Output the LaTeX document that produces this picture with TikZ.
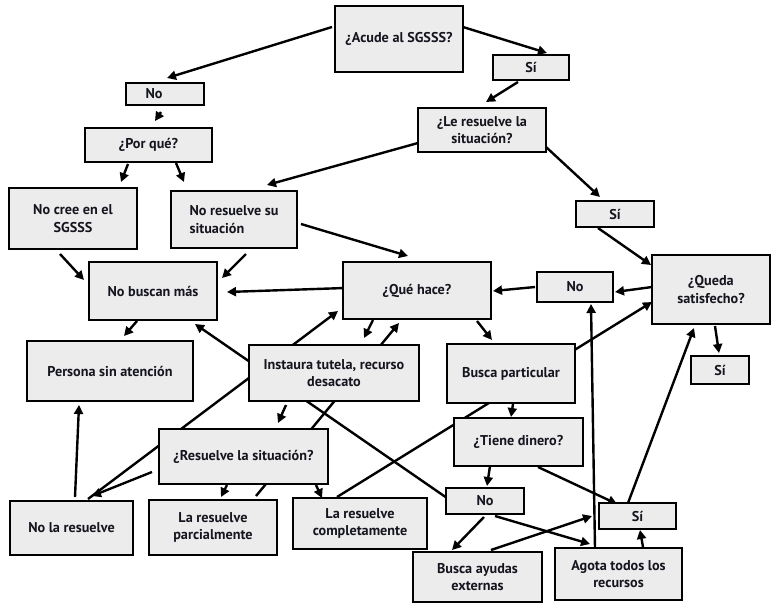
\documentclass[tikz,border=0pt]{standalone}
\usepackage{fontspec}
\setmainfont{PT Sans}
\usetikzlibrary{arrows.meta}
\definecolor{boxgray}{HTML}{ECECEC}
\definecolor{txt}{HTML}{15151F}
\pgfdeclarelayer{bg}
\pgfdeclarelayer{paper}
\pgfsetlayers{paper,bg,main}
\begin{document}
\begin{tikzpicture}[x=1pt,y=-1pt,
  box/.style={draw=black,line width=1.2pt,fill=boxgray,inner sep=0pt,align=center,
    font=\fontsize{14.2}{17.5}\selectfont\bfseries,text=txt},
  arr/.style={line width=2.4pt,-{Triangle[length=9pt,width=9pt]}},
  ln/.style={line width=2.4pt}]
\useasboundingbox (0,0) rectangle (780,611);
\begin{pgfonlayer}{paper}
\fill[white] (0,0) rectangle (780,611);
\end{pgfonlayer}

% boxes
\node[box,minimum width=128pt,minimum height=66pt] (acude) at (399,39) {¿Acude al SGSSS?};
\node[box,minimum width=78pt,minimum height=22pt] (noA) at (165,94) {No\hspace*{22pt}};
\node[box,minimum width=76pt,minimum height=25pt] (siA) at (531,67.5) {Sí};
\node[box,minimum width=127pt,minimum height=34pt] (porque) at (148.5,145) {¿Por qué?};
\node[box,minimum width=128pt,minimum height=44pt] (leres) at (482,130) {¿Le resuelve la\\situación?};
\node[box,minimum width=128pt,minimum height=61pt] (nocree) at (73,218.5) {No cree en el\\SGSSS};
\node[box,minimum width=126pt,minimum height=57pt,align=left] (nores) at (234,219.5) {No resuelve su\\situación};
\node[box,minimum width=78pt,minimum height=26pt] (siB) at (615,214) {Sí};
\node[box,minimum width=128pt,minimum height=58pt] (nobus) at (153,291) {No buscan más};
\node[box,minimum width=148pt,minimum height=57pt] (quehace) at (417,290.5) {¿Qué hace?};
\node[box,minimum width=76pt,minimum height=30pt] (noB) at (575,287) {No};
\node[box,minimum width=118pt,minimum height=69pt] (queda) at (711,289.5) {¿Queda\\satisfecho?};
\node[box,minimum width=58pt,minimum height=28pt] (siC) at (720,370) {Sí};
\node[box,minimum width=166pt,minimum height=60pt] (persona) at (110,371) {Persona sin atención};
\node[box,minimum width=170pt,minimum height=56pt] (instaura) at (334,373) {Instaura tutela, recurso\\desacato};
\node[box,minimum width=128pt,minimum height=59pt] (buscap) at (511,373.5) {Busca particular};
\node[box,minimum width=169pt,minimum height=55pt] (resuelve) at (243.5,456.5) {¿Resuelve la situación?};
\node[box,minimum width=129pt,minimum height=48pt] (tiene) at (518.5,442) {¿Tiene dinero?};
\node[box,minimum width=123pt,minimum height=54pt] (nolares) at (71.5,528) {No la resuelve};
\node[box,minimum width=128pt,minimum height=55pt] (parcial) at (213,527.5) {La resuelve\\parcialmente};
\node[box,minimum width=134pt,minimum height=51pt] (completa) at (360,523.5) {La resuelve\\completamente};
\node[box,minimum width=78pt,minimum height=26pt] (noC) at (485,501) {No};
\node[box,minimum width=77pt,minimum height=26pt] (siD) at (637.5,516) {Sí};
\node[box,minimum width=129pt,minimum height=50pt] (ayudas) at (477.5,577) {Busca ayudas\\externas};
\node[box,minimum width=127pt,minimum height=52pt] (agota) at (618.5,574) {Agota todos los\\recursos};

% connectors
\begin{pgfonlayer}{bg}
\draw[arr] ([shift={(-67,-12)}]acude.center) -- ([shift={(2,-16)}]noA.center);
\draw[arr] ([shift={(64,-12)}]acude.center) -- ([shift={(16,-14.5)}]siA.center);
\draw[arr] ([shift={(-4,18)}]noA.center) -- ([shift={(6.5,-24)}]porque.center);
\draw[arr] ([shift={(-20.5,19)}]porque.center) -- ([shift={(48,-36.5)}]nocree.center);
\draw[arr] ([shift={(27.5,18)}]porque.center) -- ([shift={(-50,-37.5)}]nores.center);
\draw[arr] ([shift={(-13,14.5)}]siA.center) -- ([shift={(4,-28)}]leres.center);
\draw[arr] ([shift={(-64,13)}]leres.center) -- ([shift={(33,-34.5)}]nores.center);
\draw[arr] ([shift={(64,17)}]leres.center) -- ([shift={(-15,-17)}]siB.center);
\draw[arr] ([shift={(-17,14)}]siB.center) -- ([shift={(-60,-24.5)}]queda.center);
\draw[arr] ([shift={(-13,35.5)}]nocree.center) -- ([shift={(-69,-11)}]nobus.center);
\draw[arr] ([shift={(12,34.5)}]nores.center) -- ([shift={(69,-13)}]nobus.center);
\draw[arr] ([shift={(67,4.5)}]nores.center) -- ([shift={(-9,-34.5)}]quehace.center);
\draw[arr] ([shift={(-72,-2.5)}]quehace.center) -- ([shift={(74,1)}]nobus.center);
\draw[arr] ([shift={(-40,0)}]noB.center) -- ([shift={(76,0.5)}]quehace.center);
\draw[arr] ([shift={(-59,-2.5)}]queda.center) -- ([shift={(40,5)}]noB.center);
\draw[arr] ([shift={(4,36.5)}]queda.center) -- ([shift={(-1,-17)}]siC.center);
\draw[arr] ([shift={(-16,30)}]nobus.center) -- ([shift={(14,-35)}]persona.center);
\draw[arr] ([shift={(-38,-3)}]noC.center) -- ([shift={(42,33)}]nobus.center);
\draw[arr] ([shift={(16.5,-29)}]nolares.center) -- ([shift={(-79,20.5)}]quehace.center);
\draw[arr] ([shift={(-44,29.5)}]quehace.center) -- ([shift={(30,-35)}]instaura.center);
\draw[arr] ([shift={(43,-31.5)}]parcial.center) -- ([shift={(-18,32.5)}]quehace.center);
\draw[arr] ([shift={(60,30.5)}]quehace.center) -- ([shift={(-19,-33.5)}]buscap.center);
\draw[arr] ([shift={(-23,-26.5)}]completa.center) -- ([shift={(-59,12.5)}]queda.center);
\draw[arr] ([shift={(2,30.5)}]buscap.center) -- ([shift={(-7.5,-25)}]tiene.center);
\draw[arr] ([shift={(-48,32)}]instaura.center) -- ([shift={(34.5,-33.5)}]resuelve.center);
\draw[arr] ([shift={(-91.5,15.5)}]resuelve.center) -- ([shift={(20.5,-32)}]nolares.center);
\draw[arr] ([shift={(3.5,-31)}]nolares.center) -- ([shift={(-31,34)}]persona.center);
\draw[arr] ([shift={(-16.5,28.5)}]resuelve.center) -- ([shift={(8,-30.5)}]parcial.center);
\draw[arr] ([shift={(72.5,28.5)}]resuelve.center) -- ([shift={(-38,-25.5)}]completa.center);
\draw[arr] ([shift={(-28.5,24)}]tiene.center) -- ([shift={(2,-15)}]noC.center);
\draw[arr] ([shift={(19.5,25)}]tiene.center) -- ([shift={(-20.5,-12)}]siD.center);
\draw[arr] ([shift={(-1,16)}]noC.center) -- ([shift={(-25.5,-27)}]ayudas.center);
\draw[arr] ([shift={(10,15)}]noC.center) -- ([shift={(-28.5,-30)}]agota.center);
\draw[arr] ([shift={(13.5,-27)}]ayudas.center) -- ([shift={(-45.5,0)}]siD.center);
\draw[arr] ([shift={(-23.5,-26)}]agota.center) -- ([shift={(16,17)}]noB.center);
\draw[arr] ([shift={(24.5,-27)}]agota.center) -- ([shift={(2.5,14)}]siD.center);
\draw[arr] ([shift={(-9.5,-13)}]siD.center) -- ([shift={(-17,38.5)}]queda.center);
\end{pgfonlayer}
\end{tikzpicture}
\end{document}
